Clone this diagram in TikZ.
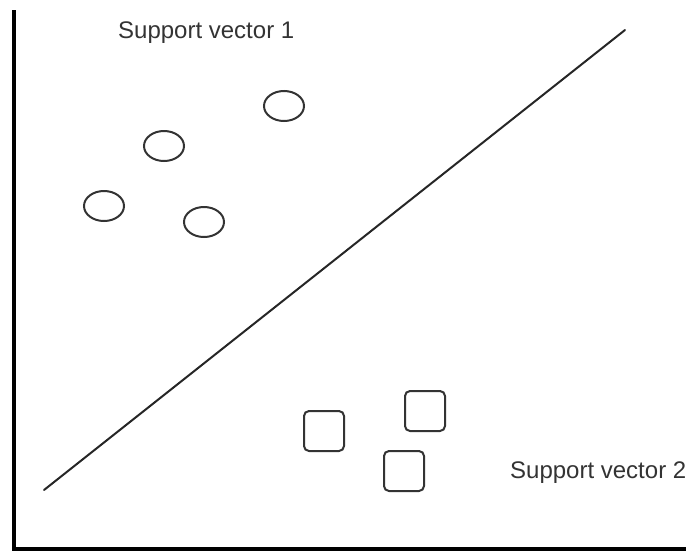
\documentclass[tikz,border=0pt]{standalone}
\usepackage{fontspec}
\setmainfont{Liberation Sans}
\usetikzlibrary{shapes.geometric}
\begin{document}
\begin{tikzpicture}[x=1pt,y=-1pt,
  axisline/.style={line width=4pt,black},
  sepline/.style={line width=2pt,draw=black!85,line cap=round},
  ringpt/.style={draw=black!80,line width=2pt,ellipse,minimum width=40pt,minimum height=30pt,inner sep=0pt},
  boxpt/.style={draw=black!80,line width=2pt,rectangle,rounded corners=5pt,minimum size=40pt,inner sep=0pt},
  lbl/.style={inner sep=0pt,anchor=base west,text=black!80,font=\fontsize{24}{28}\selectfont}]
\useasboundingbox (0,0) rectangle (686,552);
% axes
\coordinate (origin) at (14,549);
\coordinate (ytop) at (14,10);
\coordinate (xend) at (686,549);
\draw[axisline] (ytop) -- (origin) -- (xend);
% separating line
\coordinate (sepA) at (44,490);
\coordinate (sepB) at (625,30);
\draw[sepline] (sepA) -- (sepB);
% class one
\node[ringpt] (c1) at (284,106) {};
\node[ringpt] (c2) at (164,146) {};
\node[ringpt] (c3) at (104,206) {};
\node[ringpt] (c4) at (204,222) {};
% class two
\node[boxpt] (s1) at (324,431) {};
\node[boxpt] (s2) at (425,411) {};
\node[boxpt] (s3) at (404,471) {};
% labels
\node[lbl] (t1) at (118,38) {Support vector 1};
\node[lbl] (t2) at (510,478) {Support vector 2};
\end{tikzpicture}
\end{document}
